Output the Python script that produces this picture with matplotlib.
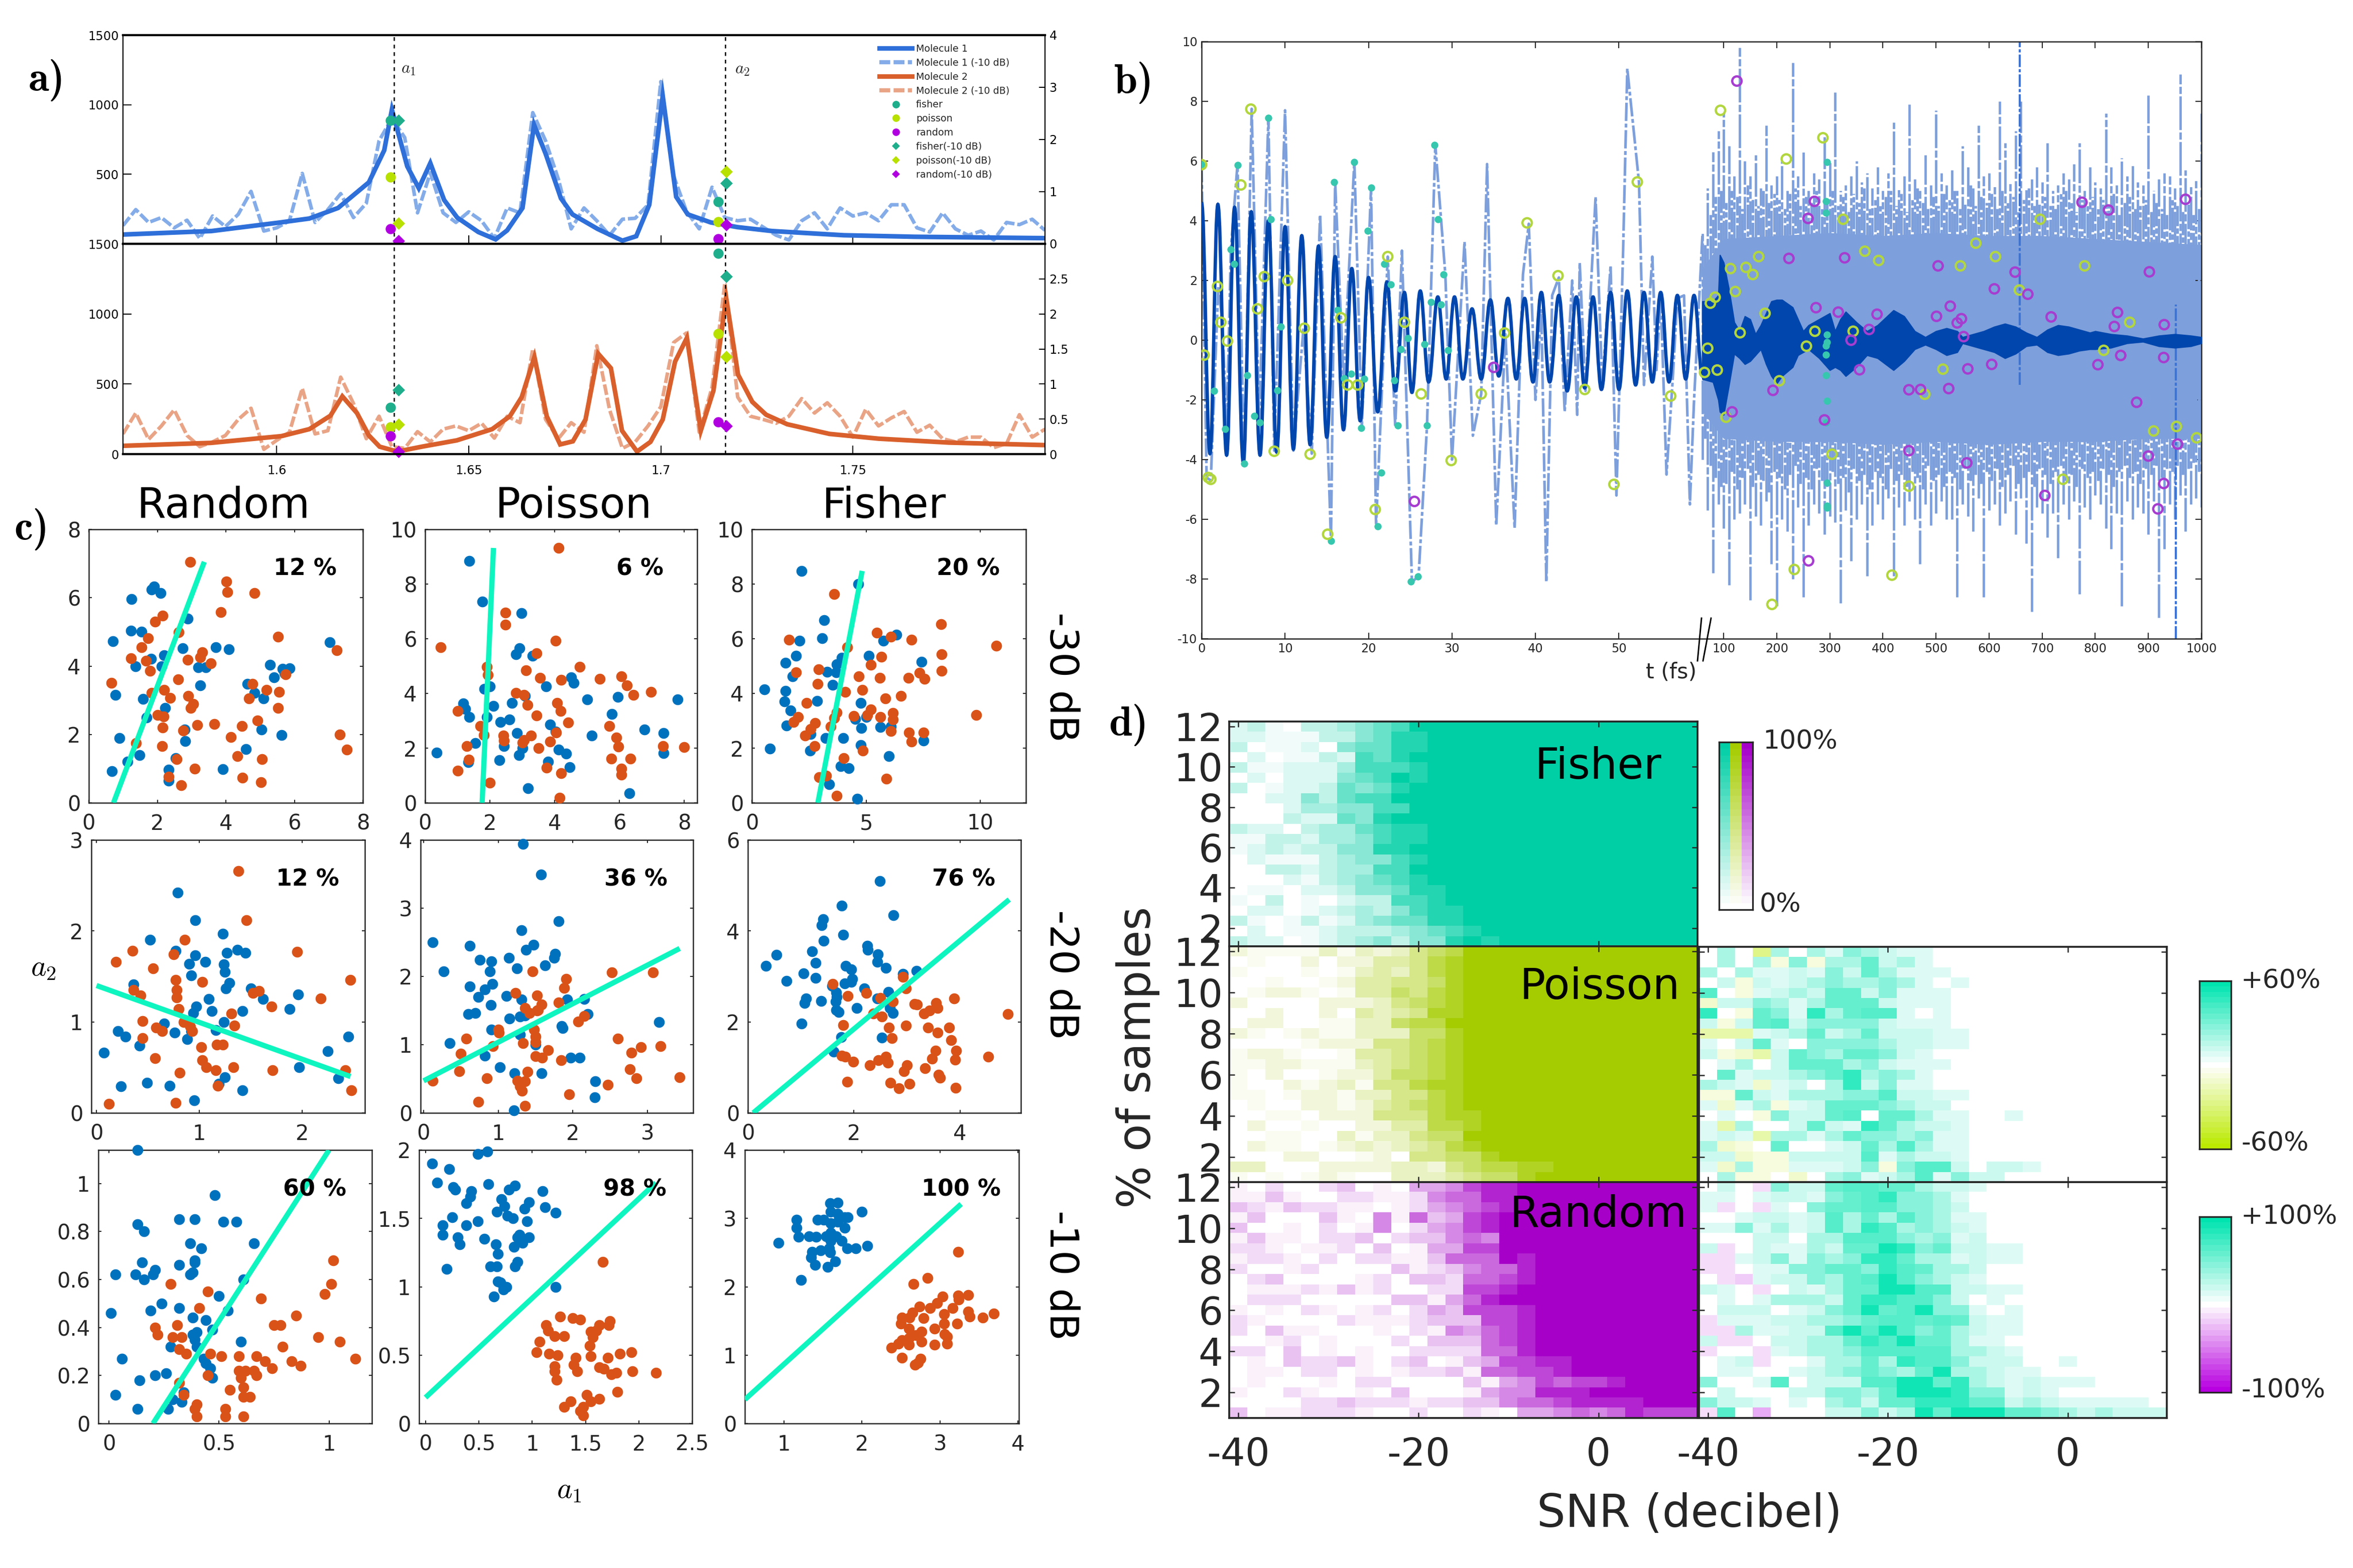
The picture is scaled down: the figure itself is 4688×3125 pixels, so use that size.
import numpy as np
import matplotlib
matplotlib.use("Agg")
import matplotlib.pyplot as plt
from matplotlib.colors import LinearSegmentedColormap, PowerNorm
from matplotlib.lines import Line2D
from matplotlib.path import Path
from matplotlib.patches import PathPatch

W, H = 4688, 3125
plt.rcParams['font.family'] = 'DejaVu Sans'
plt.rcParams['mathtext.fontset'] = 'cm'
plt.rcParams['text.color'] = '#262626'
INK = '#262626'

# ---------------- panel a data ----------------
M1_X = [1.56,1.583,1.601,1.6085,1.616,1.624,1.628,1.630,1.634,1.637,1.640,1.6436,1.647,1.6525,1.657,1.660,1.664,1.667,1.670,1.674,1.677,1.6835,1.690,1.6936,1.697,1.7005,1.704,1.707,1.713,1.720,1.729,1.7476,1.766,1.80]
M1_Y = [67,92,154,182,258,442,672,964,557,400,580,315,189,85,32,97,258,856,649,327,212,108,23,55,281,1063,338,212,154,120,92,62,51,41]
M1N_Y = [131,246,154,189,115,170,39,200,124,212,377,92,115,166,506,154,246,361,189,292,741,902,764,223,511,223,154,230,166,39,258,223,943,741,465,108,258,166,62,177,184,281,1166,488,235,108,407,189,166,177,120,62,28,166,223,108,258,200,223,166,281,281,115,85,223,108,62,92,28,154,138,177,97]
M2_X = [1.56,1.5829,1.6012,1.6085,1.614,1.6171,1.6209,1.624,1.6268,1.6314,1.6378,1.6469,1.6561,1.6607,1.6638,1.6671,1.6703,1.6738,1.6771,1.6804,1.6837,1.687,1.6899,1.6938,1.6973,1.7005,1.7037,1.7068,1.7104,1.7137,1.717,1.7201,1.7238,1.7274,1.7329,1.7439,1.7567,1.775,1.80]
M2_Y = [59,80,128,178,274,412,293,133,53,18,53,98,178,270,407,693,270,69,91,247,716,613,167,18,87,247,659,830,167,453,1116,567,373,281,213,144,110,82,64]
M2N_Y = [144,293,105,201,316,133,53,87,133,247,327,34,98,156,469,144,167,549,361,110,270,53,41,160,87,178,201,167,220,114,270,224,750,247,110,224,156,773,316,41,87,201,338,796,864,156,476,1219,407,270,247,220,270,396,293,366,270,121,320,201,258,304,156,206,110,87,121,121,46,75,281,121,178]
A1, A2 = 1.6306, 1.7168
MX_C1, MX_D1, MX_C2, MX_D2 = 1.6297, 1.6317, 1.7150, 1.7170
TOP_C1 = [886, 481, 108]; TOP_D1 = [886, 147, 23]; TOP_C2 = [304, 159, 37]; TOP_D2 = [437, 518, 138]
BOT_C1 = [334, 194, 128]; BOT_D1 = [457, 213, 18]; BOT_C2 = [1432, 860, 229]; BOT_D2 = [1267, 695, 201]
METHOD_COL = ['#1fae8c', '#b8e000', '#b000e0']
METHOD_NAMES = ['fisher', 'poisson', 'random']

# ---------------- panel b data ----------------
PEAK_T = [0,1.95,3.95,5.95,8,10,12,14,16,18,20,22.2,24.3,26.2,28.3,30.3,32.4,34.6,36.7,38.7,40.7,42.8,44.9,46.9,49,51,53,55,57,59]
PEAK_V = [4.6,4.55,4.45,4.3,4.0,3.8,3.5,3.15,2.8,2.4,2.1,1.95,1.6,1.65,1.45,1.45,1.05,1.35,1.4,1.4,1.6,1.5,1.45,1.45,1.6,1.65,1.6,1.6,1.5,1.5]
TROUGH_T = [1,3,5,7,9,11,13,15,17,19,21.1,23.2,25.2,27.2,29.3,31.3,33.5,35.6,37.7,39.7,41.7,43.8,45.9,47.9,50,52,54,56,58,60]
TROUGH_V = [-3.8,-3.85,-4.1,-3.85,-3.75,-3.65,-3.5,-3.25,-3.0,-2.7,-2.4,-1.7,-1.75,-1.4,-1.3,-1.3,-1.3,-1.2,-1.3,-1.4,-1.4,-1.7,-1.6,-1.65,-1.65,-1.5,-1.4,-1.4,-1.3,-1.2]
NOISY_T = [0,0.6,1.1,2,2.5,3,3.5,4.3,5.1,6,6.9,8,8.7,10,11,12.2,13.2,14.2,15.5,16,17,18.3,19.2,20.3,20.9,22.3,23.2,24,25.2,26,27,28,29.2,30,31.5,32.5,33.5,34.2,35.3,36.4,37.5,38.5,39.2,40,40.7,41.3,42,42.8,43.5,44.4,45,45.3,46,47.2,48,49,49.7,50.5,51,52.4,53,54,54.5,55,55.7,56.4,57,57.8,58.5,59,60]
NOISY_V = [5.9,-4.6,-4.7,1.8,0.6,-3,3,5.9,-4.2,7.75,-2.8,7.45,-3.7,7.7,-3.7,0.4,-3.8,4.2,-6.7,5.3,-1.3,6,-2.9,5.1,-6.2,2.8,-2.9,3,-8.1,-7.9,-2.9,6.55,2.2,-4,3.3,-3.2,-1.8,5.9,-6.2,0.2,-6.3,2.2,3.9,-2,1,-8.1,1.5,2.1,-2.4,2,-2.5,2.6,-1.7,4.8,-1.5,2.5,-5.2,3,9.1,5.3,-1.5,2.8,-1,1.5,-4.5,-1.5,1.4,1.5,-5.5,-2,3.5]
BAND_T = [60,70,80,90,100]+[110+10*i for i in range(90)]
BAND_UP = [3.6,5.1,6.3,7.0,7.6,
 6.5,5.5,9.8,6.0,5.5,6.2,5.1,7.2,5.2,5.5,
 6.0,5.0,9.3,5.5,6.3,5.0,5.6,5.4,6.8,6.0,
 8.3,5.0,5.2,5.5,6.0,5.3,5.6,5.1,5.8,5.0,
 5.6,7.3,5.1,5.5,7.9,5.4,5.0,6.2,5.2,7.7,
 5.6,5.2,5.7,5.0,6.5,5.8,5.1,7.2,5.5,5.6,
 5.2,8.0,6.6,5.3,7.0,8.0,5.1,5.4,5.8,5.3,
 6.6,5.0,5.2,5.6,5.4,5.9,6.6,5.0,5.8,5.3,
 5.1,7.6,5.8,5.2,6.1,5.5,5.9,5.3,5.2,8.2,
 5.0,5.4,5.6,5.5,5.1,8.9,5.7,5.2,5.4,7.6]
BAND_LOW = [-4.0,-5.7,-7.8,-5.5,-6.3,
 -8.2,-6.0,-5.8,-5.5,-8.7,-5.9,-6.2,-5.4,-7.5,-8.9,
 -6.0,-6.4,-8.0,-5.6,-8.6,-6.2,-5.5,-5.8,-6.5,-5.9,
 -6.1,-8.8,-5.7,-7.4,-6.0,-5.5,-7.9,-6.2,-5.5,-6.0,
 -5.3,-7.9,-5.6,-6.2,-5.4,-6.0,-7.5,-5.5,-6.2,-5.8,
 -5.4,-6.0,-6.0,-8.6,-5.5,-5.9,-6.4,-5.3,-8.6,-5.7,
 -5.5,-6.2,-5.8,-5.4,-6.5,-5.3,-6.8,-9.1,-5.6,-5.8,
 -6.6,-5.8,-7.3,-5.5,-6.0,-5.4,-8.5,-5.6,-6.0,-5.2,
 -5.5,-6.3,-7.0,-5.8,-8.9,-5.4,-6.0,-5.6,-5.8,-6.5,
 -5.4,-9.3,-7.0,-5.5,-6.0,-5.2,-6.4,-5.5,-5.3,-5.6]
BAND2_T = [65,75,85,95]+[105+10*i for i in range(90)]
BAND2_UP = [3.2,4.2,4.8,5.0,
 4.6,5.0,4.8,4.4,5.2,4.7,4.5,5.0,4.6,4.9,
 4.7,4.4,4.9,5.1,4.5,4.8,4.6,5.0,4.4,4.7,
 5.0,4.5,4.8,4.3,4.9,4.6,5.1,4.4,4.7,4.5,
 4.8,5.0,4.5,4.9,4.3,4.7,5.1,4.6,4.4,4.8,
 4.5,4.9,4.7,5.0,4.4,4.6,5.2,4.5,4.8,4.6,
 4.9,4.4,5.0,4.6,4.8,4.3,4.7,5.1,4.5,4.6,
 4.8,4.5,4.4,4.9,5.0,4.6,4.3,4.7,4.5,4.8,
 4.4,4.7,4.5,4.9,4.2,4.6,4.8,4.4,4.5,4.7,
 4.3,4.6,4.4,4.2,4.7,4.5,4.3,4.6,4.2,4.4]
BAND2_LOW = [-3.3,-4.2,-4.6,-4.9,
 -4.8,-4.4,-5.0,-4.6,-4.3,-4.9,-4.5,-4.7,-5.1,-4.4,
 -4.6,-5.0,-4.5,-4.2,-4.8,-4.6,-5.0,-4.3,-4.7,-4.9,
 -4.4,-4.8,-4.6,-5.1,-4.3,-4.7,-4.5,-5.0,-4.4,-4.6,
 -5.0,-4.3,-4.7,-4.5,-4.9,-4.4,-4.6,-5.0,-4.2,-4.7,
 -4.5,-4.9,-4.4,-4.6,-5.0,-4.3,-4.7,-4.5,-4.8,-4.4,
 -4.7,-4.3,-4.9,-4.5,-4.2,-4.8,-4.6,-4.4,-4.9,-4.3,
 -4.5,-4.8,-4.4,-4.2,-4.7,-4.5,-4.9,-4.3,-4.6,-4.4,
 -4.7,-4.3,-4.5,-4.9,-4.4,-4.2,-4.6,-4.4,-4.8,-4.3,
 -4.5,-4.2,-4.6,-4.3,-4.4,-4.2,-4.5,-4.3,-4.1,-4.4]
CORE_T = [60,100,200,300,400,500,600,700,800,900,1000]
CORE_UP = [2.4,3.4,3.5,3.6,3.5,3.6,3.5,3.5,3.4,3.3,3.2]
CORE_LOW = [-2.4,-3.3,-3.4,-3.4,-3.5,-3.4,-3.5,-3.4,-3.4,-3.3,-3.3]
ENV_T_UP = [60,80,90,93,100,110,120,130,140,150,160,170,180,190,200,210,230,240,250,260,280,300,310,320,330,350,370,390,420,440,460,480,500,520,540,550,570,590,610,630,650,670,690,710,730,750,770,790,800,830,860,890,920,950,980,1000]
ENV_UP = [1.3,1.3,1.5,2.85,2.6,1.7,.6,.3,.8,.7,.2,.5,.9,1.3,1.35,1.35,1.1,.7,.3,.5,.7,.9,.3,.7,.95,.6,.3,.5,1,.8,.3,.1,.3,.4,.3,.1,.2,.3,.45,.55,.45,.25,.1,.35,.5,.45,.35,.25,.3,.2,.15,.05,.15,.2,.15,.1]
ENV_LOW = [-1.3,-1.4,-2.0,-2.4,-2.5,-1.5,-.45,-.6,-.8,-.7,-.5,-.3,-.8,-1.2,-1.45,-1.2,-.9,-.5,-.4,-.3,-.6,-1,-.9,-1,-1.2,-.9,-.5,-.6,-1.0,-.7,-.3,-.15,-.3,-.5,-.4,-.1,-.2,-.3,-.4,-.6,-.45,-.2,-.15,-.4,-.5,-.45,-.35,-.3,-.3,-.25,-.1,-.05,-.2,-.25,-.2,-.1]
SPIKE_T = [658, 952]
SPIKE_TOP = [10, 1.2]
SPIKE_BOT = [-1.5, -10]
B_POISSON = [(0,5.88),(.3,-.5),(.8,-4.6),(1.1,-4.66),(1.9,1.8),(2.3,.6),(3.1,-.03),(4.7,5.2),(5.9,7.74),(6.7,1.05),(7.5,2.13),(8.7,-3.72),(10.3,2.0),(12.3,.4),(13,-3.82),(15.1,-6.5),(16.7,.75),(17.5,-1.5),(18.7,-1.5),(20.8,-5.67),(22.3,2.8),(24.3,.6),(26.3,-1.8),(29.9,-4.03),(33.5,-1.8),(36.3,.24),(39,3.93),(42.7,2.16),(45.9,-1.65),(49.4,-4.83),(52.2,5.3),(56.2,-1.87),
 (64,-1.08),(70,-.27),(75,1.24),(84,1.44),(94,7.7),(88,-1.0),(104.5,-2.58),(113,2.4),(122,1.63),(131,.25),(142,2.44),(155,2.2),(166,2.8),(178,.9),(205,-1.36),(218,6.07),(233,-7.68),(256,-.2),(272,.3),(287,6.78),(304,-3.82),(325,4.05),(344,.3),(366,2.98),(392,2.67),(417,-7.87),(449,-4.89),(479,-1.81),(513,-.97),(546,2.49),(575,3.25),(612,2.8),(657,1.68),(696,4.05),(739,-4.66),(780,2.49),(816,-.34),(865,.6),(910,-3.04),(953,-2.89),(991,-3.27),(191,-8.85)]
B_RANDOM = [(25.5,-5.4),(35,-.91),(116,-2.4),(125,8.68),(193,-1.68),(223,2.74),(259,4.08),(260,-7.39),(271,4.65),(274,1.09),(290,-2.67),(316,.94),(328,2.76),(340,0),(356,-.99),(374,.36),(389,.87),(449,-3.7),(449,-1.66),(471,-1.65),(501,.8),(504,2.49),(524,-1.62),(527,1.14),(540,.58),(548,.72),(552,.12),(558,-4.11),(560,-.96),(605,-.81),(610,1.72),(649,2.28),(673,1.54),(705,-5.2),(717,.78),(775,4.62),(805,-.82),(825,4.36),(836,.46),(842,.93),(848,-.51),(878,-2.08),(900,-3.88),(902,2.29),(918,-5.65),(929,-4.8),(930,.52),(929,-.58),(955,-3.48),(970,4.72)]
B_FISHER = [(0,5.88),(1.5,-1.7),(2.8,-2.97),(3.5,3.04),(3.9,2.55),(4.3,5.86),(5.1,-4.14),(5.5,-1.17),(6.3,-2.53),(7,-2.76),(8,7.45),(8.3,4.05),(9.1,-1.68),(9.5,.45),(15.5,-6.72),(15.9,5.29),(16.3,1),(17.1,-1.27),(17.9,-1.12),(18.3,5.97),(19.1,-2.94),(19.5,-1.3),(19.9,3.66),(20.3,5.11),(21.1,-6.24),(21.5,-4.44),(21.9,2.56),(22.7,1.87),(23.1,-1.35),(23.5,-2.85),(23.9,-.3),(24.7,.06),(25.1,-8.08),(25.9,-7.92),(26.7,-.13),(27,-2.85),(27.5,1.27),(27.9,6.54),(28.3,4.05),(28.7,1.2),(29,2.2),(29.5,-.33),
 (295,5.97),(293,4.66),(293,4.27),(295,.18),(295,-.07),(293,-.18),(293,-.48),(293,-1.18),(295,-2.04),(293,-2.76),(295,-4.78),(295,-5.55),(295,-5.62)]

# ---------------- panel c data ----------------
R1C1_B = [(.68,.93),(1.13,1.2),(1.48,1.39),(.9,1.9),(1.69,2.49),(.78,3.15),(1.58,3.04),(.7,4.73),(1.23,5.03),(1.54,5.0),(1.25,5.96),(1.83,6.24),(1.91,6.33),(2.1,6.14),(2.88,5.38),(1.81,4.21),(2.2,4.32),(2.12,3.99),(1.36,3.99),(2.74,4.52),(3.7,4.55),(4.09,4.49),(3.19,3.97),(3.42,3.96),(2.22,2.77),(3.25,3.43),(2.8,2.15),(2.82,1.8),(2.53,1.31),(2.33,.97),(2.33,.65),(3.91,.99),(4.59,1.57),(5.04,2.14),(5.62,1.98),(5.1,3.05),(4.84,3.22),(4.63,3.48),(5.41,3.67),(5.66,3.92),(5.86,3.94),(5.29,4.04),(7.04,4.69),(5.72,3.79)]
R1C1_O = [(2.96,7.04),(4.01,6.48),(4.05,6.16),(4.84,6.14),(3.85,5.58),(2.16,5.48),(1.93,5.3),(2.63,4.99),(1.73,4.81),(5.53,4.86),(1.54,4.55),(7.24,4.46),(1.23,4.23),(1.67,4.16),(1.79,3.86),(2.88,4.19),(3.31,4.4),(3.25,4.25),(3.56,4.08),(2.61,3.61),(.66,3.51),(4.77,3.48),(5.74,3.76),(5.19,3.3),(5.56,3.24),(2.2,3.3),(1.83,3.22),(2.37,3.07),(2.9,3.13),(4.67,3.06),(5.53,2.78),(3.05,2.89),(2.98,2.78),(2.0,2.57),(2.18,2.52),(2.16,2.2),(3.17,2.27),(3.66,2.3),(2.76,2.12),(4.47,2.24),(4.92,2.41),(4.14,1.93),(7.33,2.0),(7.53,1.56),(1.38,1.75),(2.14,1.66),(2.57,1.28),(4.34,1.36),(5.06,1.28),(3.09,1.0),(2.33,.77),(4.49,.73),(2.7,.51),(5.02,.6)]
R1C2_B = [(1.37,8.85),(1.76,7.36),(2.98,6.94),(.35,1.84),(1.18,3.63),(1.24,3.44),(1.37,3.14),(1.9,3.14),(1.83,4.17),(2.0,4.25),(2.11,3.55),(2.68,3.66),(3.09,3.9),(3.73,4.25),(4.51,4.58),(4.58,4.39),(5.01,3.78),(5.95,3.87),(7.8,3.78),(5.77,3.24),(6.78,2.68),(7.36,2.55),(5.14,2.46),(3.86,2.86),(4.03,2.61),(2.33,2.95),(2.61,3.04),(2.83,2.55),(3.0,2.0),(2.44,2.08),(1.55,2.18),(2.9,1.74),(2.29,1.56),(1.33,1.48),(4.12,1.94),(4.36,1.79),(3.79,1.51),(4.47,1.31),(3.18,.54),(6.3,.35),(7.36,1.81),(3.31,5.37),(2.81,5.43),(2.92,5.65)]
R1C2_O = [(4.12,9.33),(2.48,6.95),(2.48,6.51),(.48,5.69),(4.03,5.92),(3.44,5.46),(1.9,4.97),(1.94,4.67),(3.12,4.84),(4.77,4.97),(3.55,4.56),(4.2,4.5),(5.4,4.54),(6.06,4.62),(6.23,4.29),(6.97,4.05),(6.43,3.94),(2.81,4.02),(3.05,3.94),(3.16,3.58),(4.07,3.66),(4.18,3.35),(3.44,3.2),(1.0,3.36),(1.7,2.81),(4.42,2.93),(5.69,2.81),(1.81,2.48),(2.42,2.46),(2.44,2.27),(3.27,2.46),(3.0,2.21),(3.05,2.3),(4.05,2.57),(5.9,2.39),(1.29,2.08),(3.51,2.0),(3.86,2.24),(5.97,2.05),(7.34,2.07),(8.0,2.03),(1.35,1.57),(5.75,1.61),(6.34,1.62),(1.0,1.18),(3.75,1.29),(4.2,1.08),(6.06,1.24),(6.06,1.03),(2.0,.73),(4.16,.19)]
R1C3_B = [(2.18,8.48),(4.65,8.0),(3.17,6.68),(3.08,6.01),(2.09,5.92),(6.34,6.15),(5.75,5.93),(5.11,5.37),(1.94,5.38),(1.48,5.12),(7.42,5.15),(3.94,5.3),(3.72,5.07),(3.29,4.79),(3.69,4.77),(1.78,4.63),(3.54,4.32),(.55,4.14),(1.48,4.09),(2.86,3.73),(4.77,3.66),(1.42,3.71),(1.69,3.38),(4.52,3.06),(5.02,3.14),(1.51,2.83),(4.8,2.73),(5.63,2.77),(6.09,2.79),(2.58,2.52),(3.23,2.37),(4.0,2.37),(.8,1.99),(4.77,2.11),(2.55,1.9),(6.0,1.7),(3.88,1.34),(4.25,1.26),(3.38,.67),(4.62,.15),(7.51,2.28)]
R1C3_O = [(3.6,7.64),(8.28,6.54),(5.48,6.22),(6.09,6.07),(6.98,5.96),(1.63,5.96),(10.71,5.75),(4.18,5.69),(8.31,5.43),(5.66,5.34),(5.2,5.05),(2.92,4.88),(1.94,4.77),(8.31,4.83),(7.35,4.75),(4.68,4.62),(5.6,4.57),(6.86,4.56),(7.57,4.53),(2.89,4.34),(4.83,4.12),(4.09,4.05),(6.52,3.9),(5.85,3.82),(2.4,3.66),(5.2,3.41),(5.05,3.22),(3.72,3.31),(3.6,3.11),(4.46,3.18),(5.63,3.13),(6.18,3.29),(6.18,3.04),(9.82,3.22),(2.03,3.14),(2.77,2.92),(1.82,2.95),(2.58,2.7),(3.45,2.79),(6.09,2.63),(6.89,2.57),(7.51,2.57),(2.34,2.45),(6.98,2.23),(2.74,2.08),(4.86,1.9),(4.03,1.63),(2.95,.93),(3.26,.99),(5.88,.88),(3.72,.26)]
R2C1_B = [(.79,2.42),(.96,2.12),(1.23,1.97),(.52,1.9),(.77,1.78),(.96,1.73),(1.37,1.79),(1.27,1.76),(1.45,1.76),(.9,1.64),(1.06,1.66),(1.24,1.63),(1.25,1.55),(.92,1.51),(.36,1.41),(1.29,1.43),(1.26,1.37),(1.5,1.37),(1.62,1.25),(1.96,1.3),(1.09,1.25),(.97,1.17),(.94,1.1),(1.12,1.12),(1.42,1.12),(1.88,1.14),(1.24,1.0),(.66,.98),(.21,.9),(.28,.84),(.88,.81),(.42,.74),(.07,.66),(2.45,.84),(2.25,.68),(.76,.88),(.92,.9),(1.16,.91),(1.97,.5),(2.35,.38),(1.25,.39),(1.19,.32),(1.42,.25),(.24,.29),(.49,.33),(.71,.3),(.95,.14)]
R2C1_O = [(1.38,2.66),(1.46,2.12),(.86,1.9),(.35,1.78),(.19,1.66),(1.95,1.77),(.75,1.74),(.55,1.59),(2.47,1.46),(.77,1.46),(1.03,1.44),(1.58,1.34),(1.52,1.32),(.36,1.35),(.78,1.35),(.78,1.27),(.43,1.29),(2.18,1.26),(1.7,1.17),(.8,1.14),(1.31,1.09),(.85,1.0),(.45,1.01),(1.34,.96),(.91,.95),(.58,.94),(.64,.9),(.93,.9),(.45,.82),(1.02,.72),(1.17,.75),(1.23,.75),(.57,.6),(1.03,.58),(1.07,.5),(1.16,.47),(1.33,.5),(1.71,.47),(.81,.44),(2.42,.47),(1.18,.3),(2.48,.25),(.12,.1),(.77,.11)]
R2C2_B = [(1.33,3.94),(1.57,3.49),(1.81,2.81),(1.31,2.68),(.12,2.5),(1.47,2.46),(1.37,2.39),(.62,2.45),(1.76,2.33),(1.75,2.27),(1.14,2.27),(.75,2.24),(.91,2.22),(1.63,2.16),(.27,2.07),(.89,2.07),(1.25,2.12),(.92,1.89),(.62,1.85),(.82,1.81),(.73,1.7),(1.11,1.71),(1.31,1.66),(1.92,1.66),(2.15,1.67),(.9,1.58),(.6,1.45),(.69,1.46),(2.2,1.45),(1.36,1.43),(1.29,1.41),(1.15,1.38),(3.15,1.33),(1.85,1.27),(.91,1.22),(1.29,1.15),(1.86,1.24),(.35,1.02),(1.5,1.0),(.82,.84),(1.97,.81),(2.09,.81),(1.02,.67),(1.22,.58),(1.58,.58),(2.3,.46),(2.29,.23),(1.21,.04)]
R2C2_O = [(2.52,2.06),(3.07,2.06),(1.46,2.07),(1.91,1.96),(1.88,1.83),(1.23,1.76),(1.52,1.72),(1.58,1.59),(1.53,1.51),(1.36,1.54),(1.81,1.62),(1.42,1.46),(1.52,1.5),(2.15,1.42),(2.07,1.34),(1.0,1.22),(1.48,1.22),(1.01,1.18),(1.5,1.12),(1.5,1.04),(1.33,1.02),(.57,1.09),(2.6,1.09),(3.17,.98),(2.91,.96),(.5,.87),(.93,.98),(2.78,.88),(1.67,.92),(1.5,.83),(1.59,.81),(1.84,.77),(.48,.61),(1.39,.6),(2.76,.64),(3.43,.52),(2.85,.51),(.85,.51),(.12,.47),(1.26,.47),(1.36,.46),(1.29,.39),(1.32,.32),(2.47,.41),(1.95,.27),(.73,.16),(1.36,.1)]
R2C3_B = [(2.49,5.1),(1.77,4.56),(2.75,4.35),(1.42,4.26),(1.39,4.13),(1.8,3.92),(1.43,3.78),(.54,3.47),(1.21,3.55),(2.25,3.67),(2.26,3.59),(2.45,3.48),(2.44,3.32),(1.28,3.3),(.34,3.23),(1.85,3.23),(2.6,3.19),(1.95,3.15),(1.05,3.07),(3.18,3.12),(2.93,3.06),(1.28,2.97),(1.97,2.95),(1.95,2.88),(.73,2.9),(1.83,2.85),(1.59,2.79),(2.2,2.74),(2.65,2.66),(1.67,2.65),(1.68,2.55),(1.66,2.45),(2.44,2.51),(1.1,2.51),(1.07,2.42),(1.38,2.46),(2.05,2.31),(2.68,2.3),(1.67,2.26),(1.71,2.22),(2.74,2.19),(1.01,1.96),(1.76,1.66),(2.53,1.65),(1.62,1.35)]
R2C3_O = [(2.93,2.99),(1.6,2.84),(2.98,2.73),(1.88,2.57),(2.23,2.64),(2.5,2.53),(2.74,2.45),(3.89,2.51),(3.14,2.39),(3.19,2.38),(3.55,2.42),(3.58,2.3),(3.43,2.25),(3.32,2.18),(4.9,2.17),(2.37,2.18),(2.53,2.12),(1.8,1.93),(2.66,1.87),(2.98,1.92),(3.4,1.87),(3.8,1.88),(3.58,1.76),(3.83,1.6),(2.72,1.64),(3.54,1.37),(3.93,1.37),(3.47,1.19),(3.91,1.17),(4.53,1.23),(1.77,1.26),(1.84,1.23),(1.99,1.12),(2.6,1.23),(2.46,1.16),(2.64,1.1),(2.3,1.05),(3.0,1.05),(3.34,.98),(2.94,.91),(3.6,.84),(3.63,.77),(1.87,.68),(2.69,.66),(3.05,.64),(2.85,.54),(3.92,.55)]
R3C1_B = [(.13,1.14),(.48,.95),(.13,.83),(.16,.8),(.32,.85),(.39,.85),(.52,.84),(.58,.84),(.66,.75),(.37,.75),(.42,.73),(.39,.68),(.39,.67),(.15,.67),(.32,.66),(.21,.64),(.2,.62),(.03,.62),(.12,.62),(.16,.6),(.37,.62),(.38,.63),(.61,.6),(.5,.53),(.24,.5),(.32,.48),(.19,.47),(.01,.46),(.54,.47),(.38,.44),(.44,.43),(.47,.39),(.4,.38),(.38,.37),(.39,.35),(.4,.32),(.28,.32),(.6,.34),(.06,.27),(.43,.27),(.44,.25),(.46,.23),(.47,.19),(.26,.21),(.21,.2),(.14,.18),(.03,.12),(.34,.13),(.29,.1),(.33,.09),(.27,.06),(.13,.06)]
R3C1_O = [(1.02,.68),(1.01,.58),(.98,.54),(.28,.58),(.45,.55),(.69,.52),(.41,.48),(.85,.45),(.75,.41),(.78,.41),(.31,.41),(.21,.4),(.22,.37),(.29,.36),(.33,.36),(.95,.36),(1.05,.34),(.79,.32),(.32,.31),(.35,.29),(.46,.29),(.51,.28),(.59,.28),(.67,.28),(1.12,.27),(.83,.26),(.71,.26),(.74,.23),(.87,.24),(.59,.22),(.62,.22),(.66,.22),(.67,.2),(.6,.19),(.45,.2),(.32,.17),(.61,.15),(.55,.14),(.34,.12),(.61,.11),(.64,.11),(.4,.08),(.39,.06),(.53,.06),(.53,.03),(.61,.03),(.4,.03)]
R3C2_B = [(.49,1.97),(.58,1.99),(.06,1.9),(.22,1.86),(.11,1.76),(.59,1.75),(.84,1.74),(.78,1.71),(.26,1.73),(.28,1.71),(1.099,1.7),(.43,1.7),(.42,1.66),(.71,1.64),(.97,1.62),(.38,1.61),(.74,1.59),(1.12,1.58),(.93,1.57),(.67,1.55),(1.22,1.54),(.25,1.51),(.77,1.52),(.82,1.5),(.49,1.48),(.95,1.48),(.38,1.45),(.16,1.45),(.16,1.38),(.3,1.36),(.32,1.31),(.55,1.35),(.66,1.31),(.88,1.38),(.97,1.36),(.86,1.36),(.91,1.32),(.83,1.29),(.68,1.24),(.86,1.18),(.84,1.15),(.2,1.13),(.61,1.15),(.67,1.15),(.68,1.04),(.7,1.03),(.76,1.0),(.73,.98),(.64,.93),(1.22,1.0)]
R3C2_O = [(1.66,1.18),(1.26,.78),(1.38,.77),(1.45,.76),(1.13,.72),(1.15,.68),(1.73,.75),(1.72,.72),(1.3,.64),(1.21,.64),(1.63,.72),(1.6,.68),(1.55,.67),(1.57,.63),(1.07,.6),(1.54,.57),(1.04,.52),(1.16,.51),(1.24,.5),(1.82,.51),(1.93,.52),(1.55,.49),(1.71,.48),(1.41,.48),(1.39,.43),(1.21,.42),(1.21,.38),(1.63,.41),(1.67,.4),(1.42,.38),(1.79,.37),(1.74,.36),(1.94,.38),(2.16,.37),(1.23,.32),(1.8,.23),(1.51,.21),(1.63,.18),(1.55,.16),(1.36,.16),(1.3,.12),(1.48,.12),(1.45,.09),(1.48,.06)]
R3C3_B = [(1.59,3.22),(1.69,3.23),(2.0,3.1),(1.16,2.98),(1.16,2.86),(1.43,2.98),(1.51,2.98),(1.6,3.1),(1.69,3.07),(1.78,3.02),(1.82,3.02),(1.6,2.93),(1.69,2.95),(1.78,2.86),(1.6,2.79),(1.54,2.74),(1.67,2.74),(1.19,2.73),(1.32,2.74),(1.41,2.73),(.93,2.64),(1.6,2.67),(1.74,2.67),(1.81,2.56),(1.92,2.56),(2.07,2.6),(1.58,2.56),(1.47,2.53),(1.36,2.51),(1.35,2.43),(1.59,2.5),(1.66,2.37),(1.4,2.32),(1.56,2.29),(1.22,2.1)]
R3C3_O = [(3.23,2.51),(2.84,2.13),(2.66,2.04),(3.36,1.88),(3.03,1.86),(3.23,1.87),(3.24,1.81),(2.96,1.76),(2.87,1.69),(2.74,1.71),(3.16,1.69),(3.36,1.64),(3.69,1.61),(3.55,1.55),(3.38,1.56),(2.65,1.62),(3.05,1.6),(2.79,1.54),(2.51,1.55),(2.61,1.55),(2.5,1.46),(3.22,1.46),(2.93,1.39),(3.05,1.46),(2.6,1.39),(2.76,1.34),(3.06,1.31),(3.09,1.27),(2.69,1.29),(2.6,1.25),(2.51,1.22),(2.47,1.17),(2.6,1.15),(2.76,1.2),(3.09,1.17),(2.93,1.15),(2.38,1.11),(2.51,.96),(2.75,.95),(2.72,.89),(2.68,.86)]

SCATTER = [
 # pixel box, xlim, ylim, xticks, yticks, blue, orange, separator, percent
 ((177,1055,723,1600),(0,8),(0,8),[0,2,4,6,8],[0,2,4,6,8],R1C1_B,R1C1_O,((.72,3.37),(0,7.05)),'12 %'),
 ((847,1055,1389,1600),(0,8.4),(0,10),[0,2,4,6,8],[0,2,4,6,8,10],R1C2_B,R1C2_O,((1.76,2.11),(0,9.32)),'6 %'),
 ((1498,1055,2044,1600),(0,12),(0,10),[0,5,10],[0,2,4,6,8,10],R1C3_B,R1C3_O,((2.89,4.83),(0,8.48)),'20 %'),
 ((182,1674,727,2218),(-.05,2.61),(0,3),[0,1,2],[0,1,2,3],R2C1_B,R2C1_O,((0,2.47),(1.4,.4)),'12 %'),
 ((838,1674,1381,2218),(-.04,3.61),(0,4),[0,1,2,3],[0,1,2,3,4],R2C2_B,R2C2_O,((0,3.43),(.47,2.41)),'36 %'),
 ((1490,1674,2034,2218),(0,5.15),(0,6),[0,2,4],[0,2,4,6],R2C3_B,R2C3_O,((.1,4.93),(0,4.69)),'76 %'),
 ((196,2292,741,2837),(-.048,1.195),(0,1.139),[0,.5,1],[0,.2,.4,.6,.8,1],R3C1_B,R3C1_O,((.2,1.0),(0,1.139)),'60 %'),
 ((835,2292,1379,2837),(-.06,2.49),(0,2),[0,.5,1,1.5,2,2.5],[0,.5,1,1.5,2],R3C2_B,R3C2_O,((0,2.16),(.19,1.76)),'98 %'),
 ((1484,2292,2030,2837),(.5,4.01),(0,4),[1,2,3,4],[0,1,2,3,4],R3C3_B,R3C3_O,((.5,3.27),(.35,3.21)),'100 %'),
]

# ---------------- panel d data (levels 0..9, rows top to bottom; the remainder of each row is saturated or blank) ----------------
FISHER_ROWS = [
 [2,3,1,0,3,3,4,5,6,7,9],[2,2,1,1,1,3,3,5,6,8,8],[3,0,1,1,2,0,5,6,6,8,8],[0,2,0,1,1,3,2,7,6,8],[3,1,1,2,2,2,4,7,7,7,8],
 [0,2,0,2,2,2,5,6,7,9,8],[3,0,1,2,2,3,6,5,6,8],[0,0,2,2,5,3,6,7,7],[0,0,0,2,4,4,5,5,7,7],[0,0,0,3,2,2,6,5,8],
 [3,2,2,0,3,4,4,6,7,8,8],[1,1,3,3,2,4,4,5,7,8,8],[1,2,3,2,3,3,5,5,8,8],[0,2,1,1,1,3,4,5,5,7,8],[0,0,3,3,2,3,4,4,7,7],
 [0,0,0,2,1,3,4,5,6,7,8],[0,1,1,0,2,2,3,5,5,6,8,8],[1,0,3,0,1,0,2,3,3,7,7,8],[0,2,2,0,1,2,3,4,3,5,7,8,8],[3,1,0,1,3,1,2,4,5,6,6,8,8],
 [0,2,0,1,1,2,3,3,3,4,5,6,7,8],[3,2,2,0,1,2,3,4,5,3,5,5,8,9,8]]
POISSON_ROWS = [
 [2,1,1,1,1,3,1,3,2,3,5,6,7],[0,1,0,0,2,0,2,2,4,4,5,7,8],[1,0,0,0,1,0,1,3,4,3,5,7,8],[0,0,1,0,0,1,2,4,4,5,5,6,8],[0,1,2,2,1,0,1,4,4,6,5,7,8],
 [2,0,0,0,0,2,2,2,3,5,6,7,8],[0,0,2,0,0,2,0,4,3,4,5,8,8],[0,2,2,0,0,1,1,3,3,6,7,7],[2,1,0,1,2,1,1,3,3,3,6,6,8],[0,0,0,0,1,2,2,2,5,5,6,7,8],
 [1,2,2,1,0,0,1,4,4,5,6,7,8],[1,1,2,2,1,1,1,3,4,5,6,7,8],[1,0,2,0,0,1,2,2,4,6,6,7,8],[1,0,0,2,1,2,3,1,5,5,7,8,8],[1,1,0,1,2,2,1,3,3,5,5,7,8],
 [0,1,0,0,2,2,1,2,4,5,6,7,8],[0,0,1,1,0,2,2,2,5,5,5,7,8,8],[0,2,0,0,1,0,0,2,2,4,4,7,7,8],[0,0,1,1,0,0,3,1,3,3,5,6,6],[0,2,1,1,0,1,2,3,2,3,4,5,7,8],
 [0,0,0,2,2,0,0,1,2,0,5,5,6,6,8],[3,3,0,0,0,2,2,2,2,3,3,2,5,6,7,7,8,8],[1,0,1,0,1,2,1,0,0,3,3,3,4,5,6,6,8]]
RANDOM_ROWS = [
 [1,0,2,0,0,2,3,0,1,0,4,4,5,7,8,8],[1,1,3,1,0,0,2,2,1,1,2,5,6,6,8,8],[3,2,1,3,2,2,1,1,0,1,2,4,5,6,7,8],[1,3,0,0,0,3,1,0,5,1,6,3,4,7,8],[3,0,0,1,0,2,0,1,5,0,2,4,5,7,8],
 [1,3,1,1,0,2,2,3,0,2,3,3,5,6,5],[2,2,1,0,1,1,2,0,3,0,1,4,4,7,7],[1,2,2,1,0,2,0,2,2,1,1,3,6,6,6,9,8],[2,0,0,1,2,0,0,0,0,3,1,2,3,5,6,6,8],[0,2,3,0,0,0,0,1,2,0,3,3,2,6,6,7,8],
 [0,1,1,1,2,1,3,1,2,0,0,2,2,7,7,8],[0,2,2,2,0,0,0,0,0,3,3,1,4,6,8],[1,0,1,0,2,1,0,1,2,0,2,4,3,7,7,7,8],[2,1,0,0,0,0,2,1,1,1,2,3,3,3,7,7,8],[2,0,3,1,1,0,0,0,1,0,2,1,5,4,6,7,8],
 [0,0,1,2,0,1,0,0,0,2,0,3,3,3,6,7,8],[2,2,0,3,0,1,0,1,0,0,2,2,2,2,6,6,8],[0,1,0,3,2,2,3,1,0,2,3,0,1,3,4,7,7,8,8],[0,1,1,0,2,2,0,1,0,1,2,2,3,1,6,6,7,7,8],[0,1,0,0,0,1,0,2,2,0,0,0,0,3,1,4,5,7,6,7,7,8],
 [1,0,0,2,1,0,0,1,0,3,0,0,0,1,4,5,5,8,8,8],[0,0,0,0,2,2,3,2,2,2,1,2,2,3,3,5,6,6,7,8,8,8,8],[3,0,1,1,2,2,2,1,0,0,2,0,0,2,1,0,4,4,5,6,5,6,8,7,7,7]]
POISSON_DIFF_ROWS = [
 [0,3,0,-4,3,0,3,1,4,3,2,1,1],[0,3,0,3,-1,4,-1,3,3,5,2,3,1],[3,0,3,1,1,2,1,4,2,5,3,1,1,1],[0,2,-1,2,1,2,3,4,3,3,4,3,1,0,1],[6,0,-1,1,2,3,2,5,5,2,4,1,1,1],
 [-2,2,2,4,3,1,3,5,5,5,2,1,1,1],[7,0,-1,5,4,1,7,3,5,6,6,1,0,1],[2,-1,2,5,6,2,4,4,4,4,2,1,1,1],[-3,-3,-3,1,2,3,5,2,3,5,2,2,2,1,1],[1,0,2,5,1,0,4,4,4,4,3,2,2,1,1],
 [2,-1,-2,-3,2,5,4,3,5,5,4,2,1],[0,1,3,0,2,5,5,5,3,4,2,1,1,1],[0,5,1,2,2,3,4,5,7,3,4,3,1],[3,2,1,-2,1,2,0,3,7,2,4,1,1],[-1,-1,5,2,1,3,3,3,4,4,6,2,2,1,1],
 [1,-2,1,3,-1,1,2,5,5,5,4,3,2,2],[0,1,0,-1,4,2,2,5,6,0,5,5,3,1,1,0,0,1],[1,-3,3,0,0,2,5,2,1,7,5,3,2,2,1],[1,2,1,-3,3,3,1,3,5,4,4,3,4,1,1],[3,-2,-1,0,5,0,0,1,2,5,3,6,3,1,1],
 [2,2,-2,-1,-1,2,2,2,2,6,1,3,2,2,1],[1,-2,3,-1,-1,1,1,1,2,4,-1,4,6,6,2,0,2,2,1],[0,3,-1,-1,0,-2,0,3,4,1,2,3,6,1,4,2,2]]
RANDOM_DIFF_ROWS = [
 [0,2,0,-1,4,2,2,5,6,6,5,5,3,2,2,1],[1,1,0,1,2,2,1,4,5,6,7,4,4,3,1],[1,-1,0,-1,1,0,4,5,5,6,6,4,4,3,2],[0,0,1,2,2,1,2,6,3,5,3,6,4,3,1,1],[1,1,4,1,3,1,2,6,3,7,6,3,4,3,2,1],
 [0,0,0,2,2,0,3,3,6,6,6,4,3,4,1,2],[2,-1,0,2,1,1,3,2,5,5,8,7,4,5,2,2,1,1],[-1,-1,1,2,4,1,4,3,4,7,7,5,3,3,1,2,1,1],[-1,-1,0,1,1,4,4,5,5,4,7,6,5,3,3,2],[0,-1,-2,1,2,2,4,3,5,6,8,6,4,3,2,1],
 [2,1,0,-1,0,2,1,3,5,5,8,8,6,6,2,2,1,1],[0,1,0,1,3,3,3,2,5,7,7,6,6,4,2,0,1],[0,2,2,2,0,1,2,4,5,8,5,6,8,4,4,1,0,1],[-1,1,1,1,2,2,3,3,4,5,6,6,5,6,5,2,1,1],[-1,-1,3,1,1,2,2,6,8,6,8,6,4,5,3,2,1,1],
 [2,-1,-1,0,2,2,3,3,5,7,6,8,5,5,3,1,1],[-1,0,0,-1,1,2,3,3,4,6,6,6,6,6,3,3,2,1],[0,1,2,-1,0,0,1,3,3,5,3,7,6,6,4,2,2,2,0,0,1],[0,1,1,0,0,1,2,3,4,5,4,3,5,8,3,3,2,1,1],[4,0,0,1,6,0,2,2,2,6,6,8,8,5,7,3,2,1,2,1,1,1],
 [0,2,0,0,0,2,2,4,4,3,5,8,8,8,7,4,4,1,2,1],[4,2,2,1,0,1,0,3,4,2,5,5,7,7,7,5,5,2,3,2,1,1,1,1,1],[-1,6,0,-3,0,0,0,2,2,4,2,3,8,5,8,8,8,5,5,4,3,2,3,2,2,2]]
NCOLS = 26
SNR_XLIM = (-41, 11)
SNR_TICKS = [-40, -20, 0]
SAMPLE_TICKS = [2, 4, 6, 8, 10, 12]

fig = plt.figure(figsize=(W/300, H/300), dpi=300, facecolor='white')

def axpx(l, t, r, b, **kw):
    return fig.add_axes([l/W, 1-b/H, (r-l)/W, (b-t)/H], **kw)

def txt(x, y, s, **kw):
    kw.setdefault('ha', 'center'); kw.setdefault('va', 'center')
    return fig.text(x/W, 1-y/H, s, **kw)

def frame(ax, lw=.7, color=INK):
    for s in ax.spines.values():
        s.set_linewidth(lw); s.set_color(color)

def lab(v):
    return '%g' % v

# ================= panel a =================
def spectrum(ax, solid_x, solid_y, noisy_y, c_solid, c_noisy, cvals, dvals, right_lim, right_ticks, bottom):
    grid = np.linspace(1.56, 1.80, len(noisy_y))
    ax.plot(grid, noisy_y, color=c_noisy, lw=1.7, ls=(0, (3.0, .8)))
    ax.plot(solid_x, solid_y, color=c_solid, lw=2.2, solid_joinstyle='miter')
    for xv in (A1, A2):
        ax.plot([xv, xv], [0, 1500], color='k', lw=.6, ls=(0, (3, 3)))
    ax.set_xlim(1.56, 1.80); ax.set_ylim(0, 1500)
    for i, col in enumerate(METHOD_COL):
        ax.scatter([MX_C1, MX_C2], [cvals[0][i], cvals[1][i]], s=24, color=col, zorder=5, clip_on=False, linewidths=0)
        ax.scatter([MX_D1, MX_D2], [dvals[0][i], dvals[1][i]], s=18, marker='D', color=col, zorder=5, clip_on=False, linewidths=0)
    ax.set_yticks([0, 500, 1000, 1500]); ax.set_xticks([1.6, 1.65, 1.7, 1.75])
    ax.tick_params(direction='in', length=4, width=.5, labelsize=5.8, pad=2, color='k')
    if not bottom:
        ax.tick_params(labelbottom=False)
        ax.set_yticklabels(['', '500', '1000', '1500'])
    else:
        ax.set_xticklabels([lab(v) for v in [1.6, 1.65, 1.7, 1.75]])
        ax.tick_params(axis='x', pad=5)
    r = ax.twinx(); r.set_ylim(*right_lim); r.set_yticks(right_ticks)
    r.set_yticklabels([lab(v) for v in right_ticks])
    r.tick_params(direction='in', length=3, width=.5, labelsize=5.8, pad=2, color='k')
    for a in (ax, r):
        a.spines['top'].set_linewidth(1.0); a.spines['bottom'].set_linewidth(1.0)
        a.spines['left'].set_linewidth(.5); a.spines['right'].set_linewidth(.5)

a_top = axpx(245, 70, 2082, 486)
spectrum(a_top, M1_X, M1_Y, M1N_Y, '#2e6fd9', '#84ace8', (TOP_C1, TOP_C2), (TOP_D1, TOP_D2), (0, 4), [0, 1, 2, 3, 4], False)
a_bot = axpx(245, 486, 2082, 905)
spectrum(a_bot, M2_X, M2_Y, M2N_Y, '#d9602c', '#e9a486', (BOT_C1, BOT_C2), (BOT_D1, BOT_D2), (0, 3), [0, .5, 1, 1.5, 2, 2.5], True)
txt(814, 136, r'$a_1$', fontsize=8); txt(1479, 137, r'$a_2$', fontsize=8)
handles = [Line2D([], [], color='#2e6fd9', lw=2.2), Line2D([], [], color='#84ace8', lw=2.0, ls=(0, (2.6, .8))),
           Line2D([], [], color='#d9602c', lw=2.2), Line2D([], [], color='#e9a486', lw=2.0, ls=(0, (2.6, .8)))]
names = ['Molecule 1', 'Molecule 1 (-10 dB)', 'Molecule 2', 'Molecule 2 (-10 dB)']
for c, n in zip(METHOD_COL, METHOD_NAMES):
    handles.append(Line2D([], [], color=c, marker='o', ms=3.6, ls='none', mew=0)); names.append(n)
for c, n in zip(METHOD_COL, METHOD_NAMES):
    handles.append(Line2D([], [], color=c, marker='D', ms=2.8, ls='none', mew=0)); names.append(n + '(-10 dB)')
leg = fig.legend(handles, names, loc='upper left', bbox_to_anchor=(1752/W, 1-88/H), frameon=False, fontsize=4.6,
                 handlelength=3.4, handletextpad=.4, labelspacing=.46, borderpad=0, borderaxespad=0)

# ================= panel b =================
K = 0.0636
def fwd(t):
    t = np.asarray(t, float)
    return np.where(t <= 60, t, 60 + (t - 60) * K)
def inv(p):
    p = np.asarray(p, float)
    return np.where(p <= 60, p, 60 + (p - 60) / K)

b = axpx(2394, 83, 4386, 1273)
b.set_xscale('function', functions=(fwd, inv))
light, dark, mid = '#7d9fdb', '#0046ad', '#3f73cf'
b.plot(NOISY_T, NOISY_V, color=light, lw=1.25, ls=(0, (7, 1, 1.5, 1)), zorder=1.5)
b.fill_between(CORE_T, CORE_LOW, CORE_UP, color=light, lw=0, zorder=1.5)
b.vlines(BAND_T, BAND_LOW, BAND_UP, color=light, lw=1.15, linestyles=[(0, (14, 1, 3, 1))], zorder=1.6)
b.vlines(BAND2_T, BAND2_LOW, BAND2_UP, color=light, lw=1.3, linestyles=[(0, (9, .8, 2, .8))], zorder=1.6)
b.vlines(SPIKE_T, SPIKE_BOT, SPIKE_TOP, color=mid, lw=1.0, linestyles=[(0, (6, 1, 1.5, 1))], zorder=1.7)
ext_t = np.ravel(np.column_stack([PEAK_T, TROUGH_T]))
ext_v = np.ravel(np.column_stack([PEAK_V, TROUGH_V]))
verts = [(ext_t[0], ext_v[0])]; codes = [Path.MOVETO]
for i in range(1, len(ext_t)):
    d = (ext_t[i] - ext_t[i-1]) * .4
    verts += [(ext_t[i-1] + d, ext_v[i-1]), (ext_t[i] - d, ext_v[i]), (ext_t[i], ext_v[i])]
    codes += [Path.CURVE4]*3
b.add_patch(PathPatch(Path(verts, codes), fill=False, edgecolor=dark, lw=1.6, zorder=3))
b.fill_between(ENV_T_UP, ENV_LOW, ENV_UP, color=dark, lw=.6, zorder=3)
px, py = zip(*B_FISHER)
b.scatter(px, py, s=12, color='#36c7ae', linewidths=0, zorder=5)
px, py = zip(*B_POISSON)
b.scatter(px, py, s=20, facecolors='none', edgecolors='#b2d63f', linewidths=1.1, zorder=6)
px, py = zip(*B_RANDOM)
b.scatter(px, py, s=20, facecolors='none', edgecolors='#a63dd0', linewidths=1.1, zorder=6)
b.set_xlim(0, 1000); b.set_ylim(-10, 10)
BT = [0, 10, 20, 30, 40, 50, 100, 200, 300, 400, 500, 600, 700, 800, 900, 1000]
b.set_xticks(BT); b.set_xticklabels([str(v) for v in BT]); b.minorticks_off()
b.set_yticks(range(-10, 11, 2)); b.set_yticklabels([str(v) for v in range(-10, 11, 2)])
b.tick_params(direction='in', length=3, width=.5, labelsize=5.8, pad=2, top=True, right=True, color=INK, labelcolor=INK)
frame(b, .6)
for (x0, y0, x1, y1) in [(3382, 1317, 3390, 1232), (3393, 1317, 3409, 1232)]:
    fig.add_artist(Line2D([x0/W, x1/W], [1-y0/H, 1-y1/H], color='k', lw=.7, transform=fig.transFigure, zorder=10))
txt(3330, 1340, 't (fs)', fontsize=10.3)

# ================= panel c =================
for (box, xl, yl, xt, yt, blue, orange, sep, pct) in SCATTER:
    ax = axpx(*box)
    bx, by = zip(*blue); ox, oy = zip(*orange)
    ax.scatter(bx, by, s=27, color='#0072bd', linewidths=0, clip_on=False, zorder=3)
    ax.scatter(ox, oy, s=27, color='#d95319', linewidths=0, clip_on=False, zorder=3)
    ax.plot(sep[0], sep[1], color='#0ff5c0', lw=2.5, zorder=4, solid_capstyle='butt')
    ax.set_xlim(*xl); ax.set_ylim(*yl)
    ax.set_xticks(xt); ax.set_xticklabels([lab(v) for v in xt])
    ax.set_yticks(yt); ax.set_yticklabels([lab(v) for v in yt])
    ax.tick_params(direction='in', length=1.5, width=.5, labelsize=10, top=True, right=True, color=INK, labelcolor=INK)
    ax.tick_params(axis='x', pad=5); ax.tick_params(axis='y', pad=4)
    frame(ax, .6)
    ax.text(.79, .855, pct, transform=ax.transAxes, ha='center', va='center', fontsize=11, fontweight='bold', color='k', zorder=6)
for x, s in [(446, 'Random'), (1143, 'Poisson'), (1761, 'Fisher')]:
    txt(x, 1032, s, fontsize=20, va='baseline', color='k')
for y, s in [(1349, '-30 dB'), (1942, '-20 dB'), (2541, '-10 dB')]:
    txt(2114, y, s, fontsize=19, rotation=270, color='k')
txt(87, 1928, r'$a_2$', fontsize=14, color='k'); txt(1134, 2969, r'$a_1$', fontsize=14, color='k')

# ================= panel d =================
def fill(rows, tail):
    return np.array([r + [tail]*(NCOLS-len(r)) for r in rows], float)

def heat(box, rows, tail, cmap, norm, ylim, xlabels, ylabels):
    ax = axpx(*box)
    ax.imshow(fill(rows, tail), cmap=cmap, norm=norm, aspect='auto', interpolation='nearest',
              extent=(SNR_XLIM[0], SNR_XLIM[1], ylim[0], ylim[1]))
    ax.set_xlim(*SNR_XLIM); ax.set_ylim(*ylim)
    ax.set_xticks(SNR_TICKS); ax.set_yticks(SAMPLE_TICKS)
    ax.tick_params(direction='in', length=2.6, width=.6, top=True, right=True, labelsize=18.5, color=INK, labelcolor=INK)
    ax.tick_params(axis='x', pad=9); ax.tick_params(axis='y', pad=3)
    ax.set_xticklabels([str(v) for v in SNR_TICKS] if xlabels else [])
    ax.set_yticklabels([str(v) for v in SAMPLE_TICKS] if ylabels else [])
    frame(ax, .9)
    return ax

FIS, POI, RAN = '#00cfa5', '#a5cc00', '#a600c8'
TEAL, LIME, VIOL = '#00e5b0', '#bcea00', '#b800e0'
cm_f = LinearSegmentedColormap.from_list('f', ['#ffffff', FIS])
cm_p = LinearSegmentedColormap.from_list('p', ['#ffffff', POI])
cm_r = LinearSegmentedColormap.from_list('r', ['#ffffff', RAN])
cm_dp = LinearSegmentedColormap.from_list('dp', [LIME, '#ffffff', TEAL], N=31)
cm_dr = LinearSegmentedColormap.from_list('dr', [VIOL, '#ffffff', TEAL], N=31)
pw = PowerNorm(gamma=1.3, vmin=0, vmax=9)

heat((2449, 1438, 3382, 1886), FISHER_ROWS, 9, cm_f, pw, (1.1, 12.25), False, True)
heat((2449, 1886, 3382, 2356), POISSON_ROWS, 9, cm_p, pw, (.78, 12.25), False, True)
heat((2449, 2356, 3382, 2826), RANDOM_ROWS, 9, cm_r, pw, (.75, 12.25), True, True)
lin = plt.Normalize(-9, 9)
heat((3385, 1887, 4317, 2356), POISSON_DIFF_ROWS, 0, cm_dp, lin, (.78, 12.25), False, False)
heat((3385, 2356, 4317, 2826), RANDOM_DIFF_ROWS, 0, cm_dr, lin, (.75, 12.25), True, False)
txt(3184, 1528, 'Fisher', fontsize=20.5, color='k')
txt(3187, 1967, 'Poisson', fontsize=20.5, color='k')
txt(3184, 2421, 'Random', fontsize=20.5, color='k')
txt(2267, 2107, '% of samples', fontsize=21.5, rotation=90)
txt(3366, 3018, 'SNR (decibel)', fontsize=21.5)

BAR_LEVELS = np.linspace(0, 9, 25)[::-1]
cb = axpx(3425, 1479, 3492, 1813)
for i, cm in enumerate((cm_f, cm_p, cm_r)):
    cb.imshow(BAR_LEVELS[:, None], cmap=cm, vmin=0, vmax=9, aspect='auto', interpolation='nearest', extent=(i, i+1, 0, 1))
cb.set_xlim(0, 3); cb.set_ylim(0, 1); cb.set_xticks([]); cb.set_yticks([]); frame(cb, .8)
txt(3512, 1479, '100%', fontsize=12.5, ha='left'); txt(3506, 1803, '0%', fontsize=12.5, ha='left')
DIFF_LEVELS = np.linspace(-9, 9, 31)[::-1]
for (box, cm, top, bot, ytop, ybot) in [((4382, 1955, 4445, 2290), cm_dp, '+60%', '-60%', 1955, 2280),
                                        ((4382, 2425, 4445, 2775), cm_dr, '+100%', '-100%', 2426, 2771)]:
    c = axpx(*box)
    c.imshow(DIFF_LEVELS[:, None], cmap=cm, vmin=-9, vmax=9, aspect='auto', interpolation='nearest')
    c.set_xticks([]); c.set_yticks([]); frame(c, .8)
    txt(4465, ytop, top, fontsize=12.5, ha='left'); txt(4465, ybot, bot, fontsize=12.5, ha='left')

# ================= panel letters =================
for x, y, s in [(93, 160, 'a)'), (2259, 165, 'b)'), (63, 1055, 'c)'), (2248, 1445, 'd)')]:
    txt(x, y, s, fontsize=20, family='cmb10', color='k')

fig.savefig('out.png', dpi=300, facecolor='white')
